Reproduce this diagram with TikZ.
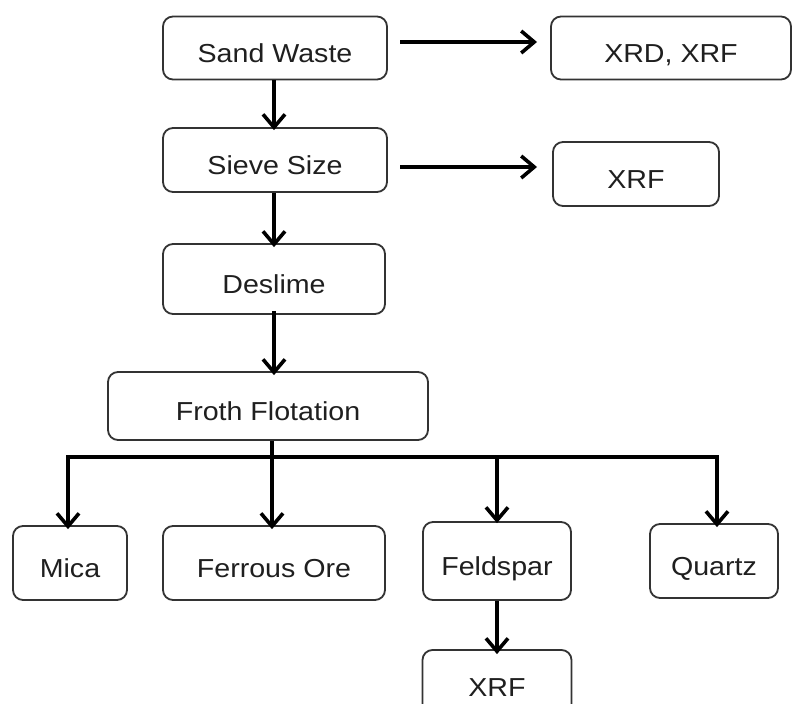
\documentclass[tikz,border=0pt]{standalone}
\usepackage{fontspec}
\setmainfont[FakeStretch=1.1]{Liberation Sans}
\usetikzlibrary{arrows.meta}
\begin{document}
\begin{tikzpicture}[x=1pt,y=-1pt,
  box/.style={draw=black!80,line width=1.8pt,rounded corners=10pt,fill=white,inner sep=0pt,
    font=\fontsize{26}{30}\selectfont, text=black!88, text height=28.6pt, text depth=0pt},
  conn/.style={line width=4pt,-{Straight Barb[length=13pt,width=22pt,line width=3.6pt]}},
  plain/.style={line width=4pt}]
\clip (0,0) rectangle (793,704);
\fill[white] (0,0) rectangle (793,704);
% nodes
\node[box,minimum width=224pt,minimum height=63pt] (sand) at (275,48) {Sand Waste};
\node[box,minimum width=240pt,minimum height=63pt] (xrd) at (671,48) {XRD, XRF};
\node[box,minimum width=224pt,minimum height=64pt] (sieve) at (275,160) {Sieve Size};
\node[box,minimum width=166pt,minimum height=64pt] (xrf1) at (636,174) {XRF};
\node[box,minimum width=222pt,minimum height=70pt] (deslime) at (274,279) {Deslime};
\node[box,minimum width=320pt,minimum height=68pt] (froth) at (268,406) {Froth Flotation};
\node[box,minimum width=114pt,minimum height=74pt] (mica) at (70,563) {Mica};
\node[box,minimum width=222pt,minimum height=74pt] (ferrous) at (274,563) {Ferrous Ore};
\node[box,minimum width=148pt,minimum height=78pt] (feld) at (497,561) {Feldspar};
\node[box,minimum width=128pt,minimum height=74pt] (quartz) at (714,561) {Quartz};
\node[box,minimum width=149pt,minimum height=64pt] (xrf2) at (497,682) {XRF};
% coordinates
\coordinate (spine) at (274,0);
\coordinate (bus) at (272,457);
\coordinate (busL) at (68,457);
\coordinate (busR) at (717,457);
\coordinate (sA) at (400,42);
\coordinate (sB) at (537,42);
\coordinate (vA) at (400,167);
\coordinate (vB) at (537,167);
% connectors
\draw[conn] (sA) -- (sB);
\draw[conn] (vA) -- (vB);
\draw[conn] (sand.south -| spine) -- ([yshift=-3pt]sieve.north -| spine);
\draw[conn] (sieve.south -| spine) -- ([yshift=-4pt]deslime.north -| spine);
\draw[conn] ([yshift=4pt]deslime.south -| spine) -- ([yshift=-4pt]froth.north -| spine);
\draw[plain] (froth.south -| bus) -- (bus);
\draw[plain,line cap=rect] (busL) -- (busR);
\draw[conn] (busL) -- ([yshift=-4pt]mica.north -| busL);
\draw[conn] (bus) -- ([yshift=-4pt]ferrous.north -| bus);
\draw[conn] (bus -| feld) -- ([yshift=-2pt]feld.north);
\draw[conn] (busR) -- ([yshift=-4pt]quartz.north -| busR);
\draw[conn] (feld.south) -- ([yshift=-5pt]xrf2.north);
\end{tikzpicture}
\end{document}
